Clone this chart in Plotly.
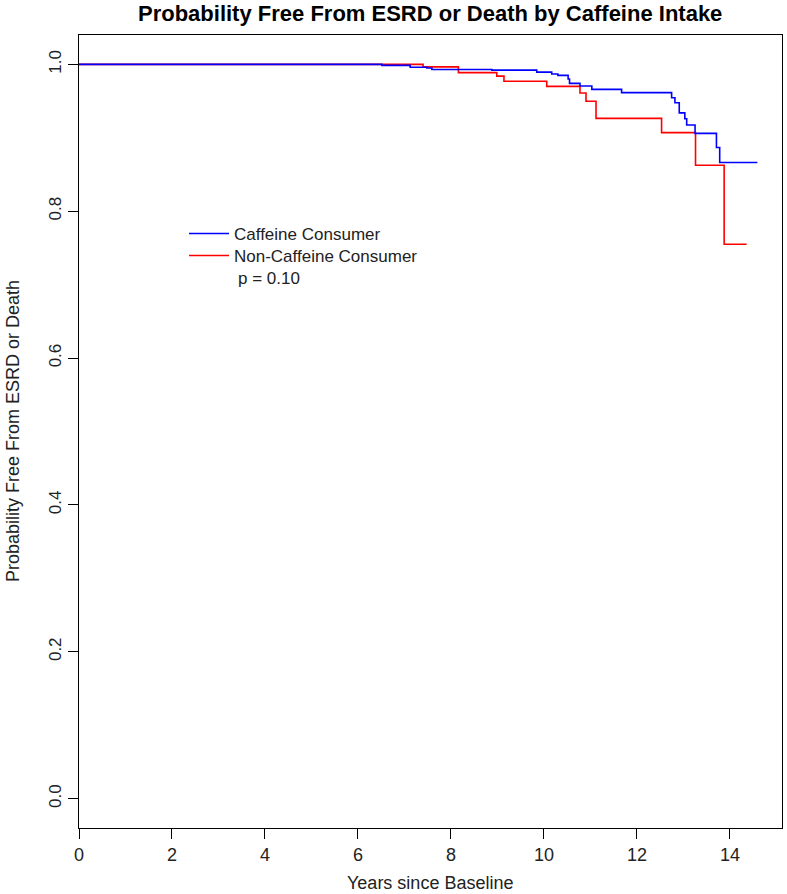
import plotly.graph_objects as go

# Kaplan-Meier step data
caff_time = [0, 6.515, 7.123, 7.48, 7.59, 8.88, 9.845, 10.167, 10.30, 10.52, 10.55,
             10.775, 11.03, 11.67, 12.746, 12.817, 12.91, 13.03, 13.07, 13.25, 13.71,
             13.78, 14.59]
caff_surv = [1.0, 0.9986, 0.996, 0.995, 0.993, 0.9922, 0.9895, 0.9868, 0.985, 0.980,
             0.9741, 0.9705, 0.966, 0.9615, 0.9546, 0.9478, 0.934, 0.926, 0.9174,
             0.906, 0.8868, 0.8663, 0.8663]

noncaff_time = [0, 7.40, 8.16, 8.986, 9.14, 10.06, 10.775, 10.905, 11.12, 12.53,
                13.26, 13.876, 14.36]
noncaff_surv = [1.0, 0.9966, 0.9887, 0.984, 0.977, 0.970, 0.961, 0.9497, 0.9265,
                0.907, 0.8626, 0.755, 0.755]

x_ticks = [0, 2, 4, 6, 8, 10, 12, 14]
y_ticks = [0.0, 0.2, 0.4, 0.6, 0.8, 1.0]
y_tick_labels = ["0.0", "0.2", "0.4", "0.6", "0.8", "1.0"]

title_text = "Probability Free From ESRD or Death by Caffeine Intake"
x_title = "Years since Baseline"
y_title = "Probability Free From ESRD or Death"
p_text = "p = 0.10"

FONT = "Liberation Sans, Arial, Helvetica, sans-serif"

W, H = 787, 894
L, R, T, B = 79, 5, 35, 66
X0, X1 = L, W - R
Y0, Y1 = T, H - B


def px_x(p):
    return (p - X0) / (X1 - X0)


def px_y(p):
    return (Y1 - p) / (Y1 - Y0)


fig = go.Figure()
fig.add_trace(go.Scatter(x=noncaff_time, y=noncaff_surv, mode="lines",
                         line=dict(color="#ff0000", width=1.6, shape="hv"),
                         name="Non-Caffeine Consumer", legend="legend2"))
fig.add_trace(go.Scatter(x=caff_time, y=caff_surv, mode="lines",
                         line=dict(color="#0000ff", width=1.6, shape="hv"),
                         name="Caffeine Consumer", legend="legend"))

leg_common = dict(xanchor="left", yanchor="top", bgcolor="rgba(0,0,0,0)",
                  font=dict(size=17, color="#222"), itemwidth=40)

fig.update_layout(
    width=W, height=H,
    margin=dict(l=L, r=R, t=T, b=B),
    paper_bgcolor="white", plot_bgcolor="white",
    font=dict(family=FONT, color="black"),
    showlegend=True,
    legend=dict(x=px_x(184), y=px_y(216), **leg_common),
    legend2=dict(x=px_x(184), y=px_y(238), **leg_common),
    xaxis=dict(range=[0, 15.12], tickvals=x_ticks, ticks="outside", ticklen=10,
               tickcolor="black", showline=True, linecolor="black", linewidth=1,
               mirror=True, showgrid=False, zeroline=False,
               tickfont=dict(size=18, color="#222")),
    yaxis=dict(range=[-0.04, 1.04], tickvals=y_ticks, ticktext=y_tick_labels,
               ticks="outside", ticklen=10, tickcolor="black", showline=True,
               linecolor="black", linewidth=1, mirror=True, showgrid=False,
               zeroline=False, tickangle=-90, tickfont=dict(size=17, color="#222")),
)

fig.add_annotation(text="<b>" + title_text + "</b>", xref="paper", yref="paper",
                   x=px_x(430), y=px_y(14), xanchor="center", yanchor="middle",
                   showarrow=False, font=dict(size=22, color="black"))
fig.add_annotation(text=x_title, xref="paper", yref="paper",
                   x=px_x(430), y=px_y(883), xanchor="center", yanchor="middle",
                   showarrow=False, font=dict(size=18, color="#222"))
fig.add_annotation(text=y_title, xref="paper", yref="paper",
                   x=px_x(13), y=px_y(431), xanchor="center", yanchor="middle",
                   textangle=-90, showarrow=False, font=dict(size=18, color="#222"))
fig.add_annotation(text=p_text, xref="paper", yref="paper",
                   x=px_x(236), y=px_y(278), xanchor="left", yanchor="middle",
                   showarrow=False, font=dict(size=17, color="#222"))

# remove the browser's default 8px body margin so the figure sits at the page origin
fig.write_html("out.html",
               config={"displayModeBar": False},
               post_script="document.body.style.margin='0';document.body.style.overflow='hidden';")
